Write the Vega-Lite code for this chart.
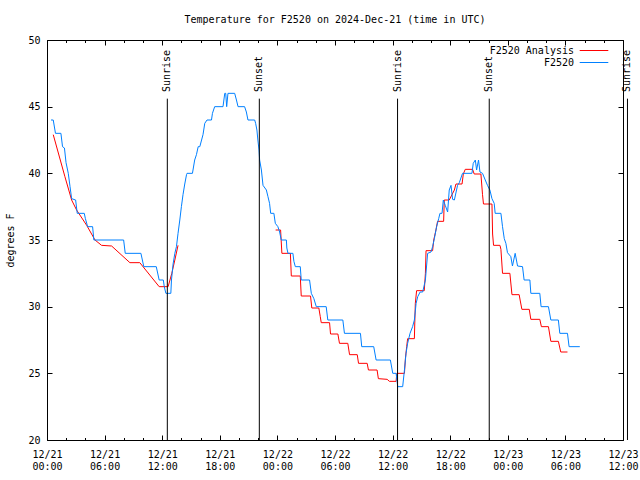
{
  "$schema": "https://vega.github.io/schema/vega-lite/v6.json",
  "width": 576,
  "height": 400,
  "autosize": "none",
  "padding": {"left": 47, "top": 40, "right": 17, "bottom": 40},
  "background": "white",
  "title": {"text": "Temperature for F2520 on 2024-Dec-21 (time in UTC)", "font": "DejaVu Sans Mono", "fontSize": 10, "fontWeight": "normal", "color": "black", "offset": 10, "anchor": "middle"},
  "config": {
    "font": "DejaVu Sans Mono",
    "view": {"stroke": "black", "strokeWidth": 1},
    "axis": {"domain": false, "grid": false, "tickColor": "black", "tickWidth": 1, "labelColor": "black", "labelFont": "DejaVu Sans Mono", "labelFontSize": 10, "titleFont": "DejaVu Sans Mono", "titleFontSize": 10, "titleFontWeight": "normal", "titleColor": "black"},
    "legend": {"title": null, "symbolType": "M-2.2,0H2.2", "symbolSize": 169, "symbolStrokeWidth": 1, "labelAlign": "right", "labelOffset": -27, "labelFont": "DejaVu Sans Mono", "labelFontSize": 10, "labelColor": "black", "rowPadding": 0, "padding": 0, "orient": "none", "legendX": 540, "legendY": 3.5}
  },
  "datasets": {
    "obs": [
      {"time": "2024-12-21T00:39Z", "temp": 42.9, "series": "F2520 Analysis", "part": "a1"},
      {"time": "2024-12-21T01:52Z", "temp": 39.75, "series": "F2520 Analysis", "part": "a1"},
      {"time": "2024-12-21T02:34Z", "temp": 38.0, "series": "F2520 Analysis", "part": "a1"},
      {"time": "2024-12-21T03:05Z", "temp": 37.25, "series": "F2520 Analysis", "part": "a1"},
      {"time": "2024-12-21T04:08Z", "temp": 36.1, "series": "F2520 Analysis", "part": "a1"},
      {"time": "2024-12-21T05:00Z", "temp": 35.0, "series": "F2520 Analysis", "part": "a1"},
      {"time": "2024-12-21T05:41Z", "temp": 34.6, "series": "F2520 Analysis", "part": "a1"},
      {"time": "2024-12-21T06:44Z", "temp": 34.55, "series": "F2520 Analysis", "part": "a1"},
      {"time": "2024-12-21T08:38Z", "temp": 33.3, "series": "F2520 Analysis", "part": "a1"},
      {"time": "2024-12-21T09:40Z", "temp": 33.3, "series": "F2520 Analysis", "part": "a1"},
      {"time": "2024-12-21T11:41Z", "temp": 31.5, "series": "F2520 Analysis", "part": "a1"},
      {"time": "2024-12-21T12:37Z", "temp": 31.5, "series": "F2520 Analysis", "part": "a1"},
      {"time": "2024-12-21T13:00Z", "temp": 32.5, "series": "F2520 Analysis", "part": "a1"},
      {"time": "2024-12-21T13:19Z", "temp": 33.5, "series": "F2520 Analysis", "part": "a1"},
      {"time": "2024-12-21T13:39Z", "temp": 34.6, "series": "F2520 Analysis", "part": "a1"},
      {"time": "2024-12-21T23:49Z", "temp": 35.75, "series": "F2520 Analysis", "part": "a2"},
      {"time": "2024-12-22T00:20Z", "temp": 35.75, "series": "F2520 Analysis", "part": "a2"},
      {"time": "2024-12-22T00:28Z", "temp": 34.0, "series": "F2520 Analysis", "part": "a2"},
      {"time": "2024-12-22T01:21Z", "temp": 34.0, "series": "F2520 Analysis", "part": "a2"},
      {"time": "2024-12-22T01:27Z", "temp": 32.3, "series": "F2520 Analysis", "part": "a2"},
      {"time": "2024-12-22T02:23Z", "temp": 32.3, "series": "F2520 Analysis", "part": "a2"},
      {"time": "2024-12-22T02:29Z", "temp": 30.8, "series": "F2520 Analysis", "part": "a2"},
      {"time": "2024-12-22T03:27Z", "temp": 30.8, "series": "F2520 Analysis", "part": "a2"},
      {"time": "2024-12-22T03:35Z", "temp": 29.9, "series": "F2520 Analysis", "part": "a2"},
      {"time": "2024-12-22T04:19Z", "temp": 29.9, "series": "F2520 Analysis", "part": "a2"},
      {"time": "2024-12-22T04:28Z", "temp": 29.25, "series": "F2520 Analysis", "part": "a2"},
      {"time": "2024-12-22T04:34Z", "temp": 28.8, "series": "F2520 Analysis", "part": "a2"},
      {"time": "2024-12-22T05:26Z", "temp": 28.8, "series": "F2520 Analysis", "part": "a2"},
      {"time": "2024-12-22T05:32Z", "temp": 27.95, "series": "F2520 Analysis", "part": "a2"},
      {"time": "2024-12-22T06:18Z", "temp": 27.95, "series": "F2520 Analysis", "part": "a2"},
      {"time": "2024-12-22T06:28Z", "temp": 27.25, "series": "F2520 Analysis", "part": "a2"},
      {"time": "2024-12-22T07:20Z", "temp": 27.25, "series": "F2520 Analysis", "part": "a2"},
      {"time": "2024-12-22T07:31Z", "temp": 26.4, "series": "F2520 Analysis", "part": "a2"},
      {"time": "2024-12-22T08:19Z", "temp": 26.4, "series": "F2520 Analysis", "part": "a2"},
      {"time": "2024-12-22T08:27Z", "temp": 25.75, "series": "F2520 Analysis", "part": "a2"},
      {"time": "2024-12-22T09:21Z", "temp": 25.75, "series": "F2520 Analysis", "part": "a2"},
      {"time": "2024-12-22T09:29Z", "temp": 25.25, "series": "F2520 Analysis", "part": "a2"},
      {"time": "2024-12-22T10:23Z", "temp": 25.25, "series": "F2520 Analysis", "part": "a2"},
      {"time": "2024-12-22T10:31Z", "temp": 24.6, "series": "F2520 Analysis", "part": "a2"},
      {"time": "2024-12-22T11:26Z", "temp": 24.55, "series": "F2520 Analysis", "part": "a2"},
      {"time": "2024-12-22T11:40Z", "temp": 24.4, "series": "F2520 Analysis", "part": "a2"},
      {"time": "2024-12-22T12:22Z", "temp": 24.4, "series": "F2520 Analysis", "part": "a2"},
      {"time": "2024-12-22T12:26Z", "temp": 25.0, "series": "F2520 Analysis", "part": "a2"},
      {"time": "2024-12-22T13:14Z", "temp": 25.0, "series": "F2520 Analysis", "part": "a2"},
      {"time": "2024-12-22T13:20Z", "temp": 26.1, "series": "F2520 Analysis", "part": "a2"},
      {"time": "2024-12-22T13:28Z", "temp": 27.0, "series": "F2520 Analysis", "part": "a2"},
      {"time": "2024-12-22T13:34Z", "temp": 27.6, "series": "F2520 Analysis", "part": "a2"},
      {"time": "2024-12-22T14:16Z", "temp": 27.6, "series": "F2520 Analysis", "part": "a2"},
      {"time": "2024-12-22T14:22Z", "temp": 30.25, "series": "F2520 Analysis", "part": "a2"},
      {"time": "2024-12-22T14:30Z", "temp": 31.2, "series": "F2520 Analysis", "part": "a2"},
      {"time": "2024-12-22T15:18Z", "temp": 31.2, "series": "F2520 Analysis", "part": "a2"},
      {"time": "2024-12-22T15:25Z", "temp": 32.5, "series": "F2520 Analysis", "part": "a2"},
      {"time": "2024-12-22T15:29Z", "temp": 34.2, "series": "F2520 Analysis", "part": "a2"},
      {"time": "2024-12-22T16:10Z", "temp": 34.2, "series": "F2520 Analysis", "part": "a2"},
      {"time": "2024-12-22T16:17Z", "temp": 35.0, "series": "F2520 Analysis", "part": "a2"},
      {"time": "2024-12-22T16:31Z", "temp": 35.75, "series": "F2520 Analysis", "part": "a2"},
      {"time": "2024-12-22T16:41Z", "temp": 36.4, "series": "F2520 Analysis", "part": "a2"},
      {"time": "2024-12-22T17:19Z", "temp": 36.4, "series": "F2520 Analysis", "part": "a2"},
      {"time": "2024-12-22T17:23Z", "temp": 38.0, "series": "F2520 Analysis", "part": "a2"},
      {"time": "2024-12-22T17:54Z", "temp": 38.0, "series": "F2520 Analysis", "part": "a2"},
      {"time": "2024-12-22T18:26Z", "temp": 38.75, "series": "F2520 Analysis", "part": "a2"},
      {"time": "2024-12-22T18:36Z", "temp": 39.2, "series": "F2520 Analysis", "part": "a2"},
      {"time": "2024-12-22T19:14Z", "temp": 39.2, "series": "F2520 Analysis", "part": "a2"},
      {"time": "2024-12-22T19:22Z", "temp": 39.95, "series": "F2520 Analysis", "part": "a2"},
      {"time": "2024-12-22T19:34Z", "temp": 40.3, "series": "F2520 Analysis", "part": "a2"},
      {"time": "2024-12-22T20:20Z", "temp": 40.3, "series": "F2520 Analysis", "part": "a2"},
      {"time": "2024-12-22T20:30Z", "temp": 39.95, "series": "F2520 Analysis", "part": "a2"},
      {"time": "2024-12-22T21:12Z", "temp": 39.95, "series": "F2520 Analysis", "part": "a2"},
      {"time": "2024-12-22T21:22Z", "temp": 38.4, "series": "F2520 Analysis", "part": "a2"},
      {"time": "2024-12-22T21:28Z", "temp": 37.7, "series": "F2520 Analysis", "part": "a2"},
      {"time": "2024-12-22T22:21Z", "temp": 37.7, "series": "F2520 Analysis", "part": "a2"},
      {"time": "2024-12-22T22:25Z", "temp": 35.45, "series": "F2520 Analysis", "part": "a2"},
      {"time": "2024-12-22T22:31Z", "temp": 34.6, "series": "F2520 Analysis", "part": "a2"},
      {"time": "2024-12-22T23:11Z", "temp": 34.6, "series": "F2520 Analysis", "part": "a2"},
      {"time": "2024-12-22T23:17Z", "temp": 34.3, "series": "F2520 Analysis", "part": "a2"},
      {"time": "2024-12-22T23:27Z", "temp": 32.5, "series": "F2520 Analysis", "part": "a2"},
      {"time": "2024-12-23T00:13Z", "temp": 32.5, "series": "F2520 Analysis", "part": "a2"},
      {"time": "2024-12-23T00:26Z", "temp": 30.9, "series": "F2520 Analysis", "part": "a2"},
      {"time": "2024-12-23T01:11Z", "temp": 30.9, "series": "F2520 Analysis", "part": "a2"},
      {"time": "2024-12-23T01:17Z", "temp": 30.5, "series": "F2520 Analysis", "part": "a2"},
      {"time": "2024-12-23T01:28Z", "temp": 29.8, "series": "F2520 Analysis", "part": "a2"},
      {"time": "2024-12-23T02:14Z", "temp": 29.8, "series": "F2520 Analysis", "part": "a2"},
      {"time": "2024-12-23T02:24Z", "temp": 29.05, "series": "F2520 Analysis", "part": "a2"},
      {"time": "2024-12-23T03:20Z", "temp": 29.05, "series": "F2520 Analysis", "part": "a2"},
      {"time": "2024-12-23T03:30Z", "temp": 28.5, "series": "F2520 Analysis", "part": "a2"},
      {"time": "2024-12-23T04:14Z", "temp": 28.5, "series": "F2520 Analysis", "part": "a2"},
      {"time": "2024-12-23T04:29Z", "temp": 27.4, "series": "F2520 Analysis", "part": "a2"},
      {"time": "2024-12-23T05:16Z", "temp": 27.4, "series": "F2520 Analysis", "part": "a2"},
      {"time": "2024-12-23T05:31Z", "temp": 26.6, "series": "F2520 Analysis", "part": "a2"},
      {"time": "2024-12-23T06:13Z", "temp": 26.6, "series": "F2520 Analysis", "part": "a2"},

      {"time": "2024-12-21T00:25Z", "temp": 44.0, "series": "F2520", "part": "o"},
      {"time": "2024-12-21T00:39Z", "temp": 44.0, "series": "F2520", "part": "o"},
      {"time": "2024-12-21T00:53Z", "temp": 43.0, "series": "F2520", "part": "o"},
      {"time": "2024-12-21T01:27Z", "temp": 43.0, "series": "F2520", "part": "o"},
      {"time": "2024-12-21T01:37Z", "temp": 42.0, "series": "F2520", "part": "o"},
      {"time": "2024-12-21T01:49Z", "temp": 41.9, "series": "F2520", "part": "o"},
      {"time": "2024-12-21T01:59Z", "temp": 40.8, "series": "F2520", "part": "o"},
      {"time": "2024-12-21T02:13Z", "temp": 40.0, "series": "F2520", "part": "o"},
      {"time": "2024-12-21T02:24Z", "temp": 39.0, "series": "F2520", "part": "o"},
      {"time": "2024-12-21T02:34Z", "temp": 38.1, "series": "F2520", "part": "o"},
      {"time": "2024-12-21T02:59Z", "temp": 38.0, "series": "F2520", "part": "o"},
      {"time": "2024-12-21T03:09Z", "temp": 37.0, "series": "F2520", "part": "o"},
      {"time": "2024-12-21T03:53Z", "temp": 37.0, "series": "F2520", "part": "o"},
      {"time": "2024-12-21T04:00Z", "temp": 36.6, "series": "F2520", "part": "o"},
      {"time": "2024-12-21T04:14Z", "temp": 36.0, "series": "F2520", "part": "o"},
      {"time": "2024-12-21T04:45Z", "temp": 36.0, "series": "F2520", "part": "o"},
      {"time": "2024-12-21T04:53Z", "temp": 35.0, "series": "F2520", "part": "o"},
      {"time": "2024-12-21T07:59Z", "temp": 35.0, "series": "F2520", "part": "o"},
      {"time": "2024-12-21T08:09Z", "temp": 34.0, "series": "F2520", "part": "o"},
      {"time": "2024-12-21T09:47Z", "temp": 34.0, "series": "F2520", "part": "o"},
      {"time": "2024-12-21T10:05Z", "temp": 33.0, "series": "F2520", "part": "o"},
      {"time": "2024-12-21T11:23Z", "temp": 33.0, "series": "F2520", "part": "o"},
      {"time": "2024-12-21T11:41Z", "temp": 32.0, "series": "F2520", "part": "o"},
      {"time": "2024-12-21T12:07Z", "temp": 32.0, "series": "F2520", "part": "o"},
      {"time": "2024-12-21T12:13Z", "temp": 31.5, "series": "F2520", "part": "o"},
      {"time": "2024-12-21T12:23Z", "temp": 31.0, "series": "F2520", "part": "o"},
      {"time": "2024-12-21T12:54Z", "temp": 31.0, "series": "F2520", "part": "o"},
      {"time": "2024-12-21T12:58Z", "temp": 32.0, "series": "F2520", "part": "o"},
      {"time": "2024-12-21T13:08Z", "temp": 33.2, "series": "F2520", "part": "o"},
      {"time": "2024-12-21T13:19Z", "temp": 34.0, "series": "F2520", "part": "o"},
      {"time": "2024-12-21T13:29Z", "temp": 34.5, "series": "F2520", "part": "o"},
      {"time": "2024-12-21T13:39Z", "temp": 35.5, "series": "F2520", "part": "o"},
      {"time": "2024-12-21T13:50Z", "temp": 36.5, "series": "F2520", "part": "o"},
      {"time": "2024-12-21T14:00Z", "temp": 37.5, "series": "F2520", "part": "o"},
      {"time": "2024-12-21T14:10Z", "temp": 38.4, "series": "F2520", "part": "o"},
      {"time": "2024-12-21T14:21Z", "temp": 39.2, "series": "F2520", "part": "o"},
      {"time": "2024-12-21T14:32Z", "temp": 39.9, "series": "F2520", "part": "o"},
      {"time": "2024-12-21T14:35Z", "temp": 40.0, "series": "F2520", "part": "o"},
      {"time": "2024-12-21T15:09Z", "temp": 40.0, "series": "F2520", "part": "o"},
      {"time": "2024-12-21T15:23Z", "temp": 41.0, "series": "F2520", "part": "o"},
      {"time": "2024-12-21T15:34Z", "temp": 41.4, "series": "F2520", "part": "o"},
      {"time": "2024-12-21T15:45Z", "temp": 42.0, "series": "F2520", "part": "o"},
      {"time": "2024-12-21T15:55Z", "temp": 42.0, "series": "F2520", "part": "o"},
      {"time": "2024-12-21T16:15Z", "temp": 42.9, "series": "F2520", "part": "o"},
      {"time": "2024-12-21T16:26Z", "temp": 43.75, "series": "F2520", "part": "o"},
      {"time": "2024-12-21T16:40Z", "temp": 44.0, "series": "F2520", "part": "o"},
      {"time": "2024-12-21T17:08Z", "temp": 44.0, "series": "F2520", "part": "o"},
      {"time": "2024-12-21T17:14Z", "temp": 44.5, "series": "F2520", "part": "o"},
      {"time": "2024-12-21T17:28Z", "temp": 45.0, "series": "F2520", "part": "o"},
      {"time": "2024-12-21T18:20Z", "temp": 45.0, "series": "F2520", "part": "o"},
      {"time": "2024-12-21T18:31Z", "temp": 46.0, "series": "F2520", "part": "o"},
      {"time": "2024-12-21T18:37Z", "temp": 46.0, "series": "F2520", "part": "o"},
      {"time": "2024-12-21T18:43Z", "temp": 45.0, "series": "F2520", "part": "o"},
      {"time": "2024-12-21T18:51Z", "temp": 46.0, "series": "F2520", "part": "o"},
      {"time": "2024-12-21T19:33Z", "temp": 46.0, "series": "F2520", "part": "o"},
      {"time": "2024-12-21T19:44Z", "temp": 45.5, "series": "F2520", "part": "o"},
      {"time": "2024-12-21T19:54Z", "temp": 45.0, "series": "F2520", "part": "o"},
      {"time": "2024-12-21T20:35Z", "temp": 45.0, "series": "F2520", "part": "o"},
      {"time": "2024-12-21T20:46Z", "temp": 44.6, "series": "F2520", "part": "o"},
      {"time": "2024-12-21T20:56Z", "temp": 44.0, "series": "F2520", "part": "o"},
      {"time": "2024-12-21T21:38Z", "temp": 44.0, "series": "F2520", "part": "o"},
      {"time": "2024-12-21T21:44Z", "temp": 43.75, "series": "F2520", "part": "o"},
      {"time": "2024-12-21T21:52Z", "temp": 43.25, "series": "F2520", "part": "o"},
      {"time": "2024-12-21T21:58Z", "temp": 42.5, "series": "F2520", "part": "o"},
      {"time": "2024-12-21T22:05Z", "temp": 41.75, "series": "F2520", "part": "o"},
      {"time": "2024-12-21T22:09Z", "temp": 41.0, "series": "F2520", "part": "o"},
      {"time": "2024-12-21T22:20Z", "temp": 40.25, "series": "F2520", "part": "o"},
      {"time": "2024-12-21T22:30Z", "temp": 39.1, "series": "F2520", "part": "o"},
      {"time": "2024-12-21T22:51Z", "temp": 38.75, "series": "F2520", "part": "o"},
      {"time": "2024-12-21T23:01Z", "temp": 38.25, "series": "F2520", "part": "o"},
      {"time": "2024-12-21T23:11Z", "temp": 37.75, "series": "F2520", "part": "o"},
      {"time": "2024-12-21T23:18Z", "temp": 37.0, "series": "F2520", "part": "o"},
      {"time": "2024-12-21T23:38Z", "temp": 37.0, "series": "F2520", "part": "o"},
      {"time": "2024-12-21T23:47Z", "temp": 36.25, "series": "F2520", "part": "o"},
      {"time": "2024-12-22T00:03Z", "temp": 36.0, "series": "F2520", "part": "o"},
      {"time": "2024-12-22T00:14Z", "temp": 35.6, "series": "F2520", "part": "o"},
      {"time": "2024-12-22T00:24Z", "temp": 35.0, "series": "F2520", "part": "o"},
      {"time": "2024-12-22T00:56Z", "temp": 35.0, "series": "F2520", "part": "o"},
      {"time": "2024-12-22T00:59Z", "temp": 34.4, "series": "F2520", "part": "o"},
      {"time": "2024-12-22T01:06Z", "temp": 34.0, "series": "F2520", "part": "o"},
      {"time": "2024-12-22T01:37Z", "temp": 34.0, "series": "F2520", "part": "o"},
      {"time": "2024-12-22T01:43Z", "temp": 33.4, "series": "F2520", "part": "o"},
      {"time": "2024-12-22T01:52Z", "temp": 33.0, "series": "F2520", "part": "o"},
      {"time": "2024-12-22T02:23Z", "temp": 33.0, "series": "F2520", "part": "o"},
      {"time": "2024-12-22T02:29Z", "temp": 32.0, "series": "F2520", "part": "o"},
      {"time": "2024-12-22T03:21Z", "temp": 32.0, "series": "F2520", "part": "o"},
      {"time": "2024-12-22T03:32Z", "temp": 31.0, "series": "F2520", "part": "o"},
      {"time": "2024-12-22T03:48Z", "temp": 30.6, "series": "F2520", "part": "o"},
      {"time": "2024-12-22T04:03Z", "temp": 30.0, "series": "F2520", "part": "o"},
      {"time": "2024-12-22T05:05Z", "temp": 30.0, "series": "F2520", "part": "o"},
      {"time": "2024-12-22T05:15Z", "temp": 29.0, "series": "F2520", "part": "o"},
      {"time": "2024-12-22T06:49Z", "temp": 29.0, "series": "F2520", "part": "o"},
      {"time": "2024-12-22T06:59Z", "temp": 28.0, "series": "F2520", "part": "o"},
      {"time": "2024-12-22T08:39Z", "temp": 28.0, "series": "F2520", "part": "o"},
      {"time": "2024-12-22T08:47Z", "temp": 27.0, "series": "F2520", "part": "o"},
      {"time": "2024-12-22T10:02Z", "temp": 27.0, "series": "F2520", "part": "o"},
      {"time": "2024-12-22T10:17Z", "temp": 26.0, "series": "F2520", "part": "o"},
      {"time": "2024-12-22T11:46Z", "temp": 26.0, "series": "F2520", "part": "o"},
      {"time": "2024-12-22T12:01Z", "temp": 25.0, "series": "F2520", "part": "o"},
      {"time": "2024-12-22T12:22Z", "temp": 25.0, "series": "F2520", "part": "o"},
      {"time": "2024-12-22T12:32Z", "temp": 24.0, "series": "F2520", "part": "o"},
      {"time": "2024-12-22T13:03Z", "temp": 24.0, "series": "F2520", "part": "o"},
      {"time": "2024-12-22T13:14Z", "temp": 25.25, "series": "F2520", "part": "o"},
      {"time": "2024-12-22T13:24Z", "temp": 26.5, "series": "F2520", "part": "o"},
      {"time": "2024-12-22T13:34Z", "temp": 27.25, "series": "F2520", "part": "o"},
      {"time": "2024-12-22T13:49Z", "temp": 28.0, "series": "F2520", "part": "o"},
      {"time": "2024-12-22T14:05Z", "temp": 28.5, "series": "F2520", "part": "o"},
      {"time": "2024-12-22T14:16Z", "temp": 29.0, "series": "F2520", "part": "o"},
      {"time": "2024-12-22T14:27Z", "temp": 30.25, "series": "F2520", "part": "o"},
      {"time": "2024-12-22T14:37Z", "temp": 30.75, "series": "F2520", "part": "o"},
      {"time": "2024-12-22T14:52Z", "temp": 31.1, "series": "F2520", "part": "o"},
      {"time": "2024-12-22T15:08Z", "temp": 31.1, "series": "F2520", "part": "o"},
      {"time": "2024-12-22T15:25Z", "temp": 32.0, "series": "F2520", "part": "o"},
      {"time": "2024-12-22T15:39Z", "temp": 34.0, "series": "F2520", "part": "o"},
      {"time": "2024-12-22T16:00Z", "temp": 34.1, "series": "F2520", "part": "o"},
      {"time": "2024-12-22T16:10Z", "temp": 34.5, "series": "F2520", "part": "o"},
      {"time": "2024-12-22T16:21Z", "temp": 35.1, "series": "F2520", "part": "o"},
      {"time": "2024-12-22T16:35Z", "temp": 36.0, "series": "F2520", "part": "o"},
      {"time": "2024-12-22T16:48Z", "temp": 36.6, "series": "F2520", "part": "o"},
      {"time": "2024-12-22T16:56Z", "temp": 37.0, "series": "F2520", "part": "o"},
      {"time": "2024-12-22T17:09Z", "temp": 37.0, "series": "F2520", "part": "o"},
      {"time": "2024-12-22T17:17Z", "temp": 38.0, "series": "F2520", "part": "o"},
      {"time": "2024-12-22T17:29Z", "temp": 37.6, "series": "F2520", "part": "o"},
      {"time": "2024-12-22T17:44Z", "temp": 37.1, "series": "F2520", "part": "o"},
      {"time": "2024-12-22T17:54Z", "temp": 38.75, "series": "F2520", "part": "o"},
      {"time": "2024-12-22T18:05Z", "temp": 39.1, "series": "F2520", "part": "o"},
      {"time": "2024-12-22T18:15Z", "temp": 38.05, "series": "F2520", "part": "o"},
      {"time": "2024-12-22T18:26Z", "temp": 38.0, "series": "F2520", "part": "o"},
      {"time": "2024-12-22T18:46Z", "temp": 39.1, "series": "F2520", "part": "o"},
      {"time": "2024-12-22T18:57Z", "temp": 39.3, "series": "F2520", "part": "o"},
      {"time": "2024-12-22T19:17Z", "temp": 40.0, "series": "F2520", "part": "o"},
      {"time": "2024-12-22T20:16Z", "temp": 40.0, "series": "F2520", "part": "o"},
      {"time": "2024-12-22T20:24Z", "temp": 40.75, "series": "F2520", "part": "o"},
      {"time": "2024-12-22T20:37Z", "temp": 41.0, "series": "F2520", "part": "o"},
      {"time": "2024-12-22T20:45Z", "temp": 40.25, "series": "F2520", "part": "o"},
      {"time": "2024-12-22T20:57Z", "temp": 41.0, "series": "F2520", "part": "o"},
      {"time": "2024-12-22T21:06Z", "temp": 40.1, "series": "F2520", "part": "o"},
      {"time": "2024-12-22T21:22Z", "temp": 40.0, "series": "F2520", "part": "o"},
      {"time": "2024-12-22T21:39Z", "temp": 39.5, "series": "F2520", "part": "o"},
      {"time": "2024-12-22T21:53Z", "temp": 39.1, "series": "F2520", "part": "o"},
      {"time": "2024-12-22T22:08Z", "temp": 38.75, "series": "F2520", "part": "o"},
      {"time": "2024-12-22T22:21Z", "temp": 38.1, "series": "F2520", "part": "o"},
      {"time": "2024-12-22T22:35Z", "temp": 37.75, "series": "F2520", "part": "o"},
      {"time": "2024-12-22T22:41Z", "temp": 37.0, "series": "F2520", "part": "o"},
      {"time": "2024-12-22T23:17Z", "temp": 37.0, "series": "F2520", "part": "o"},
      {"time": "2024-12-22T23:27Z", "temp": 36.0, "series": "F2520", "part": "o"},
      {"time": "2024-12-22T23:38Z", "temp": 35.1, "series": "F2520", "part": "o"},
      {"time": "2024-12-22T23:48Z", "temp": 34.75, "series": "F2520", "part": "o"},
      {"time": "2024-12-22T23:58Z", "temp": 34.05, "series": "F2520", "part": "o"},
      {"time": "2024-12-23T00:19Z", "temp": 33.75, "series": "F2520", "part": "o"},
      {"time": "2024-12-23T00:29Z", "temp": 33.05, "series": "F2520", "part": "o"},
      {"time": "2024-12-23T00:46Z", "temp": 34.0, "series": "F2520", "part": "o"},
      {"time": "2024-12-23T01:01Z", "temp": 33.05, "series": "F2520", "part": "o"},
      {"time": "2024-12-23T01:32Z", "temp": 33.0, "series": "F2520", "part": "o"},
      {"time": "2024-12-23T01:42Z", "temp": 32.0, "series": "F2520", "part": "o"},
      {"time": "2024-12-23T02:18Z", "temp": 32.0, "series": "F2520", "part": "o"},
      {"time": "2024-12-23T02:24Z", "temp": 31.0, "series": "F2520", "part": "o"},
      {"time": "2024-12-23T03:20Z", "temp": 31.0, "series": "F2520", "part": "o"},
      {"time": "2024-12-23T03:28Z", "temp": 30.0, "series": "F2520", "part": "o"},
      {"time": "2024-12-23T04:14Z", "temp": 30.0, "series": "F2520", "part": "o"},
      {"time": "2024-12-23T04:29Z", "temp": 29.0, "series": "F2520", "part": "o"},
      {"time": "2024-12-23T05:16Z", "temp": 29.0, "series": "F2520", "part": "o"},
      {"time": "2024-12-23T05:25Z", "temp": 28.0, "series": "F2520", "part": "o"},
      {"time": "2024-12-23T06:13Z", "temp": 28.0, "series": "F2520", "part": "o"},
      {"time": "2024-12-23T06:23Z", "temp": 27.0, "series": "F2520", "part": "o"},
      {"time": "2024-12-23T07:30Z", "temp": 27.0, "series": "F2520", "part": "o"}
    ],
    "sun": [
      {"time": "2024-12-21T12:32Z", "event": "Sunrise"},
      {"time": "2024-12-21T22:07Z", "event": "Sunset"},
      {"time": "2024-12-22T12:31Z", "event": "Sunrise"},
      {"time": "2024-12-22T22:04Z", "event": "Sunset"},
      {"time": "2024-12-23T12:28Z", "event": "Sunrise"}
    ]
  },
  "layer": [
    {
      "data": {"name": "obs"},
      "mark": {"type": "point", "opacity": 0},
      "encoding": {
        "x": {"field": "time", "type": "temporal",
              "scale": {"type": "utc", "domain": [1734739200000, 1734955200000]},
              "axis": {"orient": "top", "title": null, "labels": false, "tickSize": -5,
                       "values": [1734739200000, 1734760800000, 1734782400000, 1734804000000, 1734825600000, 1734847200000, 1734868800000, 1734890400000, 1734912000000, 1734933600000, 1734955200000]}},
        "y": {"field": "temp", "type": "quantitative", "scale": {"domain": [20, 50], "nice": false, "zero": false},
              "axis": {"orient": "right", "title": null, "labels": false, "values": [20, 25, 30, 35, 40, 45, 50], "tickSize": -5}}
      }
    },
    {
      "data": {"name": "obs"},
      "mark": {"type": "point", "opacity": 0},
      "encoding": {
        "x": {"field": "time", "type": "temporal",
              "axis": {"orient": "top", "title": null, "labels": false, "tickSize": -2.5,
                       "values": [1734739200000, 1734746400000, 1734753600000, 1734760800000, 1734768000000, 1734775200000, 1734782400000, 1734789600000, 1734796800000, 1734804000000, 1734811200000, 1734818400000, 1734825600000, 1734832800000, 1734840000000, 1734847200000, 1734854400000, 1734861600000, 1734868800000, 1734876000000, 1734883200000, 1734890400000, 1734897600000, 1734904800000, 1734912000000, 1734919200000, 1734926400000, 1734933600000, 1734940800000, 1734948000000, 1734955200000]}},
        "y": {"field": "temp", "type": "quantitative", "axis": null}
      }
    },
    {
      "data": {"name": "obs"},
      "mark": {"type": "point", "opacity": 0},
      "encoding": {
        "x": {"field": "time", "type": "temporal",
              "axis": {"orient": "bottom", "title": null, "labels": false, "tickSize": -2.5,
                       "values": [1734739200000, 1734746400000, 1734753600000, 1734760800000, 1734768000000, 1734775200000, 1734782400000, 1734789600000, 1734796800000, 1734804000000, 1734811200000, 1734818400000, 1734825600000, 1734832800000, 1734840000000, 1734847200000, 1734854400000, 1734861600000, 1734868800000, 1734876000000, 1734883200000, 1734890400000, 1734897600000, 1734904800000, 1734912000000, 1734919200000, 1734926400000, 1734933600000, 1734940800000, 1734948000000, 1734955200000]}},
        "y": {"field": "temp", "type": "quantitative", "axis": null}
      }
    },
    {
      "data": {"name": "obs"},
      "mark": {"type": "line", "strokeWidth": 1, "interpolate": "linear"},
      "encoding": {
        "x": {"field": "time", "type": "temporal",
              "axis": {"orient": "bottom", "title": null, "tickSize": -5,
                       "values": [1734739200000, 1734760800000, 1734782400000, 1734804000000, 1734825600000, 1734847200000, 1734868800000, 1734890400000, 1734912000000, 1734933600000, 1734955200000],
                       "labelExpr": "[utcFormat(datum.value, '%m/%d'), utcFormat(datum.value, '%H:%M')]",
                       "labelOverlap": false, "labelFlush": false, "labelPadding": 14, "labelLineHeight": 12}},
        "y": {"field": "temp", "type": "quantitative",
              "axis": {"orient": "left", "title": "degrees F", "values": [20, 25, 30, 35, 40, 45, 50], "tickSize": -5, "labelPadding": 12, "titlePadding": 12}},
        "color": {"field": "series", "type": "nominal",
                  "scale": {"domain": ["F2520 Analysis", "F2520"], "range": ["#ff0000", "#0080ff"]}},
        "detail": {"field": "part"}
      }
    },
    {
      "data": {"name": "sun"},
      "mark": {"type": "rule", "color": "black", "strokeWidth": 1},
      "encoding": {
        "x": {"field": "time", "type": "temporal", "axis": null},
        "y": {"datum": 20, "type": "quantitative", "axis": null},
        "y2": {"datum": 45.6}
      }
    },
    {
      "data": {"name": "sun"},
      "mark": {"type": "text", "angle": 270, "align": "left", "baseline": "middle", "font": "DejaVu Sans Mono", "fontSize": 10, "color": "black"},
      "encoding": {
        "x": {"field": "time", "type": "temporal", "axis": null},
        "y": {"datum": 46.1, "type": "quantitative", "axis": null},
        "text": {"field": "event"}
      }
    }
  ],
  "resolve": {"axis": {"x": "independent", "y": "independent"}}
}
